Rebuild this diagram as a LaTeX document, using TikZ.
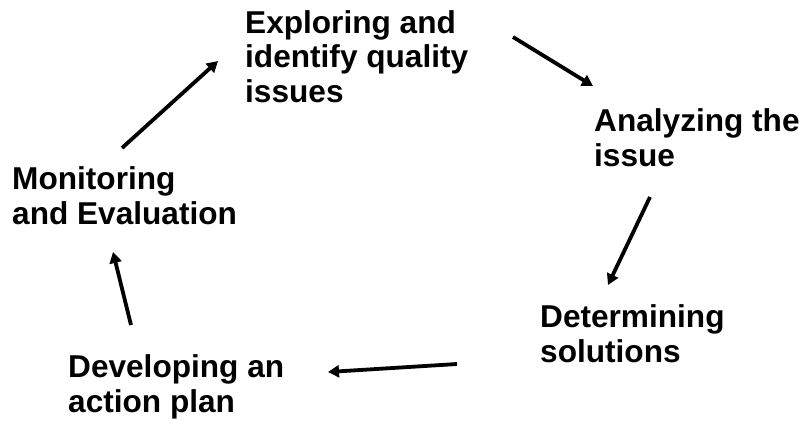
\documentclass[tikz,border=0pt]{standalone}
\usepackage{fontspec}
\setmainfont{Liberation Sans}
\usetikzlibrary{arrows.meta}

\begin{document}
\begin{tikzpicture}[x = 1pt, y = -1pt,
  stage/.style = {anchor = base west, align = left, inner sep = 0pt,
    font = \fontsize{31.6}{34.5}\selectfont\bfseries},
  arr/.style = {line width = 3.8pt, -{Triangle[length = 11pt, width = 12pt]}}]

\useasboundingbox (0,0) rectangle (806,424);

% stages (anchored at the baseline of the last line)
\node(explore) at (245,102) [stage]{Exploring and\\identify quality\\issues};
\node(analyze) at (594,166) [stage]{Analyzing the\\issue};
\node(solve) at (540,362) [stage]{Determining\\solutions};
\node(plan) at (68,412) [stage]{Developing an\\action plan};
\node(monitor) at (12,224) [stage]{Monitoring\\and Evaluation};

% arrow ends
\coordinate(a1) at (513,37);  \coordinate(b1) at (593,86);
\coordinate(a2) at (650,197); \coordinate(b2) at (608,285);
\coordinate(a3) at (457,364); \coordinate(b3) at (328,372);
\coordinate(a4) at (131,325); \coordinate(b4) at (113,252);
\coordinate(a5) at (122,148); \coordinate(b5) at (218,61);

% arrows
\draw[arr] (a1) -- (b1);
\draw[arr] (a2) -- (b2);
\draw[arr] (a3) -- (b3);
\draw[arr] (a4) -- (b4);
\draw[arr] (a5) -- (b5);

\end{tikzpicture}
\end{document}
